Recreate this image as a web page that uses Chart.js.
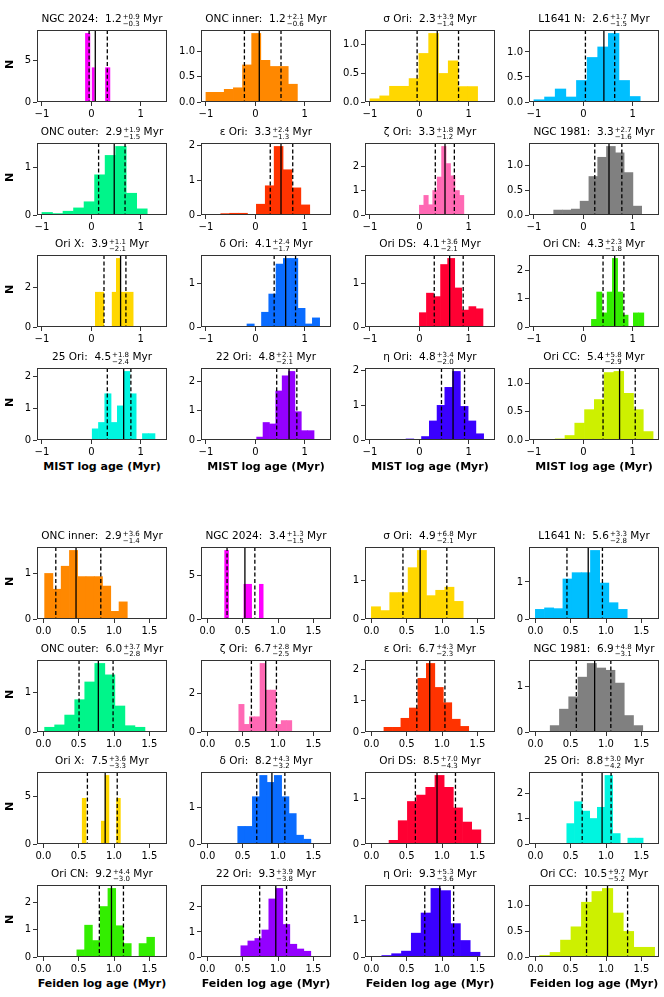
<!DOCTYPE html>
<html>
<head>
<meta charset="utf-8">
<script src="https://cdn.jsdelivr.net/npm/chart.js@4.4.1/dist/chart.umd.min.js"></script>
<style>
  body { margin: 0; background: #fff; }
  #fig { position: relative; width: 664px; height: 997px; font-family: 'DejaVu Sans', sans-serif; color: #000; }
  #fig canvas { position: absolute; }
  .ttl { position: absolute; width: 200px; text-align: center; font-size: 10.5px; line-height: 14px; white-space: nowrap; }
  .sc { display: inline-block; vertical-align: -4px; font-size: 7px; line-height: 7px; text-align: left; margin-left: 1px; }
  .sc span { display: block; }
  .ylab { position: absolute; font-size: 11px; font-weight: bold; transform: rotate(-90deg); }
  .xlab { position: absolute; width: 200px; text-align: center; font-size: 11px; font-weight: bold; }
</style>
</head>
<body>
<div id="fig"></div>
<script>
// ---- MIST ages (upper grid) ----
const MIST_NAMES = ['NGC 2024', 'ONC inner', 'σ Ori', 'L1641 N', 'ONC outer', 'ε Ori', 'ζ Ori', 'NGC 1981',
                    'Ori X', 'δ Ori', 'Ori DS', 'Ori CN', '25 Ori', '22 Ori', 'η Ori', 'Ori CC'];
const MIST_AGE   = [1.2, 1.2, 2.3, 2.6, 2.9, 3.3, 3.3, 3.3, 3.9, 4.1, 4.1, 4.3, 4.5, 4.8, 4.8, 5.4];
const MIST_PLUS  = [0.9, 2.1, 3.9, 1.7, 1.9, 2.4, 1.8, 2.7, 1.1, 2.4, 3.6, 2.3, 1.8, 2.1, 3.4, 5.8];
const MIST_MINUS = [0.3, 0.6, 1.4, 1.5, 1.5, 1.3, 1.2, 1.6, 2.1, 1.7, 2.1, 1.8, 2.4, 2.1, 2.0, 2.9];
const MIST_BIN_START = [-0.12, -1.0, -1.0, -1.0, -1.0, -0.70, 0.0, -0.6, 0.08, -0.17, 0.0, 0.163, 0.017, 0.026, -0.27, -0.57];
const MIST_BIN_WIDTH = [0.045, 0.185, 0.198, 0.215, 0.213, 0.18, 0.09, 0.178, 0.085, 0.147, 0.143, 0.106, 0.127, 0.129, 0.157, 0.198];
const MIST_DENSITY = [
  [8.3, 8.3, 0, 4.15, 0, 0, 0, 0, 0, 4.15, 4.15],
  [0.19, 0.19, 0.25, 0.28, 0.73, 1.35, 0.82, 0.70, 0.70, 0.35],
  [0.056, 0.107, 0.275, 0.275, 0.41, 0.85, 1.2, 0.5, 0.72, 0.27, 0.27],
  [0.045, 0.1, 0.26, 0.1, 0.43, 0.89, 1.1, 1.37, 0.43, 0.11],
  [0.054, 0.03, 0.08, 0.15, 0.28, 0.85, 1.26, 1.45, 0.46, 0.13],
  [0.04, 0.05, 0.05, 0, 0.31, 0.84, 1.97, 1.3, 0.78, 0.29],
  [0.4, 0.8, 0.42, 1.0, 1.55, 2.8, 2.1, 1.6, 1.0, 0.8],
  [0.1, 0.1, 0.12, 0.28, 0.78, 1.17, 1.39, 1.26, 0.86, 0.18],
  [1.75, 1.75, 0, 0, 1.75, 3.45, 1.75, 1.75, 1.75],
  [0.07, 0, 0.34, 0.76, 1.45, 1.58, 1.58, 0.43, 0.07, 0.21],
  [0.33, 0.78, 0.7, 1.44, 1.58, 0.9, 0.39, 0.47, 0.42],
  [0.27, 1.24, 0.5, 1.24, 2.43, 1.24, 0.42, 0, 0.5, 0.5],
  [0.35, 0.55, 1.45, 0.55, 1.07, 2.15, 1.45, 0, 0.2, 0.2],
  [0.1, 0.6, 0.55, 1.68, 2.2, 2.35, 0.97, 0.32, 0.32],
  [0.03, 0, 0.1, 0.55, 1.0, 1.52, 1.98, 0.97, 0.55, 0.18],
  [0.02, 0.08, 0.3, 0.54, 0.72, 1.2, 1.22, 0.83, 0.54, 0.15],
];
const MIST_YTICKS = [[0, 5], [0, 0.5, 1], [0, 0.5, 1], [0, 0.5, 1], [0, 1], [0, 1, 2], [0, 1, 2], [0, 0.5, 1],
                     [0, 2], [0, 1], [0, 1], [0, 1, 2], [0, 1, 2], [0, 1, 2], [0, 1, 2], [0, 0.5, 1]];
const MIST_XTICKS = [-1, 0, 1];

// ---- Feiden ages (lower grid) ----
const FEIDEN_NAMES = ['ONC inner', 'NGC 2024', 'σ Ori', 'L1641 N', 'ONC outer', 'ζ Ori', 'ε Ori', 'NGC 1981',
                      'Ori X', 'δ Ori', 'Ori DS', '25 Ori', 'Ori CN', '22 Ori', 'η Ori', 'Ori CC'];
const FEIDEN_AGE   = [2.9, 3.4, 4.9, 5.6, 6.0, 6.7, 6.7, 6.9, 7.5, 8.2, 8.5, 8.8, 9.2, 9.3, 9.3, 10.5];
const FEIDEN_PLUS  = [3.6, 1.3, 6.8, 3.3, 3.7, 2.8, 4.3, 4.8, 3.6, 4.3, 7.0, 3.0, 4.4, 3.9, 5.3, 9.7];
const FEIDEN_MINUS = [1.4, 1.5, 2.1, 2.8, 2.8, 2.5, 2.3, 3.1, 3.3, 3.2, 4.3, 4.2, 3.0, 3.8, 3.6, 5.2];
const FEIDEN_BIN_START = [0.018, 0.245, 0.0, 0.0, 0.018, 0.445, 0.178, 0.21, 0.55, 0.43, 0.25, 0.445, 0.474, 0.474, 0.148, 0.06];
const FEIDEN_BIN_WIDTH = [0.117, 0.0545, 0.13, 0.13, 0.142, 0.075, 0.12, 0.131, 0.054, 0.1035, 0.13, 0.108, 0.11, 0.099, 0.139, 0.148];
const FEIDEN_DENSITY = [
  [1.01, 0.66, 1.17, 1.52, 0.94, 0.94, 0.94, 0.73, 0.17, 0.38],
  [7.9, 0, 0, 0, 0, 4.0, 4.0, 0, 0, 4.0],
  [0.32, 0.22, 0.69, 0.69, 1.34, 1.79, 0.61, 0.75, 0.83, 0.46],
  [0.26, 0.3, 0.28, 1.08, 1.25, 1.25, 1.85, 0.97, 0.44, 0.26],
  [0.12, 0.18, 0.43, 0.82, 1.27, 1.74, 1.45, 0.66, 0.16, 0.12],
  [1.45, 0.4, 0.8, 0.8, 3.6, 2.2, 2.2, 0.4, 0.6, 0.6],
  [0.15, 0.15, 0.44, 0.77, 1.72, 2.2, 1.43, 0.94, 0.41, 0.18],
  [0.14, 0.5, 0.77, 1.2, 1.5, 1.4, 1.35, 1.07, 0.36, 0.14],
  [4.84, 0, 0, 0, 0, 2.42, 7.26, 0, 0, 4.84],
  [0.48, 0.48, 1.29, 1.87, 1.68, 1.87, 1.29, 0.83, 0.24, 0.13],
  [0.08, 0.51, 0.93, 1.07, 1.24, 1.5, 1.24, 0.79, 0.48, 0.31],
  [0.8, 1.66, 1.29, 1.0, 1.44, 2.69, 0.41, 0, 0.23, 0.23],
  [0.26, 1.16, 0.6, 1.84, 2.5, 1.14, 0.49, 0, 0.49, 0.72],
  [0.45, 0.64, 0.74, 1.08, 2.32, 2.74, 1.3, 0.51, 0.32, 0.23],
  [0.04, 0.09, 0.16, 0.65, 1.2, 1.87, 1.81, 0.91, 0.45, 0.13],
  [0.03, 0.09, 0.33, 0.59, 1.07, 1.28, 1.34, 0.86, 0.5, 0.19, 0.19],
];
const FEIDEN_YTICKS = [[0, 1], [0, 5], [0, 1], [0, 1], [0, 1], [0, 2], [0, 1, 2], [0, 1],
                       [0, 5], [0, 1], [0, 1], [0, 1, 2], [0, 1, 2], [0, 1, 2], [0, 1], [0, 0.5, 1]];
const FEIDEN_XTICKS = [0, 0.5, 1, 1.5];

// one colour per region, shared by both grids
const REGION_COLORS = {
  'NGC 2024': '#ff00ff', 'ONC inner': '#ff8800', 'σ Ori': '#ffd700', 'L1641 N': '#00bfff',
  'ONC outer': '#00f58a', 'ε Ori': '#ff3300', 'ζ Ori': '#ff69b4', 'NGC 1981': '#808080',
  'Ori X': '#ffd700', 'δ Ori': '#0a6cff', 'Ori DS': '#ff0033', 'Ori CN': '#33ee00',
  '25 Ori': '#00f5e0', '22 Ori': '#9400ff', 'η Ori': '#3a00ff', 'Ori CC': '#cdf000',
};

Chart.defaults.font.family = "'DejaVu Sans', sans-serif";
Chart.defaults.font.size = 10;
Chart.defaults.color = '#000';

const fig = document.getElementById('fig');
const PAD_TOP = 6, PAD_RIGHT = 8, Y_W = 36, X_H = 18;
const AX_W = 130, AX_H = 74;

// median line + 16/84 dashed lines, then the axes frame
const markers = {
  id: 'markers',
  afterDatasetsDraw(chart, args, opts) {
    const { ctx, chartArea: a, scales: { x } } = chart;
    ctx.save();
    ctx.strokeStyle = '#000';
    ctx.lineWidth = 1.3;
    opts.lines.forEach(([v, dashed]) => {
      const px = x.getPixelForValue(v);
      ctx.setLineDash(dashed ? [4, 2.4] : []);
      ctx.beginPath();
      ctx.moveTo(px, a.top);
      ctx.lineTo(px, a.bottom);
      ctx.stroke();
    });
    ctx.restore();
  },
  afterDraw(chart) {
    const { ctx, chartArea: a } = chart;
    ctx.save();
    ctx.strokeStyle = '#333';
    ctx.lineWidth = 1;
    ctx.strokeRect(Math.round(a.left) + 0.5, Math.round(a.top) + 0.5,
                   Math.round(a.right - a.left) - 1, Math.round(a.bottom - a.top) - 1);
    ctx.restore();
  },
};

const fmtX = v => (v < 0 ? '\u2212' + Math.abs(v) : String(v));

function addPanel(name, age, plus, minus, start, width, dens, yTicks, xTicks, xMin, xMax, left, top, decimalsX) {
  const color = REGION_COLORS[name];
  const points = dens.map((d, i) => ({ x: start + (i + 0.5) * width, y: d }));
  const yMax = Math.max(...dens) * 1.05;
  const yFrac = yTicks.some(v => v % 1 !== 0);

  const canvas = document.createElement('canvas');
  canvas.width = Y_W + AX_W + PAD_RIGHT;
  canvas.height = PAD_TOP + AX_H + X_H;
  canvas.style.left = (left - Y_W) + 'px';
  canvas.style.top = (top - PAD_TOP) + 'px';
  fig.appendChild(canvas);

  new Chart(canvas, {
    type: 'bar',
    data: {
      datasets: [{
        data: points,
        backgroundColor: color,
        borderWidth: 0,
        barPercentage: 1,
        categoryPercentage: 1,
      }],
    },
    options: {
      responsive: false,
      animation: false,
      events: [],
      layout: { padding: { top: PAD_TOP, right: PAD_RIGHT, left: 0, bottom: 0 } },
      plugins: {
        legend: { display: false },
        tooltip: { enabled: false },
        markers: {
          lines: [[Math.log10(age), false], [Math.log10(age - minus), true], [Math.log10(age + plus), true]],
        },
      },
      scales: {
        x: {
          type: 'linear',
          min: xMin,
          max: xMax,
          offset: false,
          afterBuildTicks: s => { s.ticks = xTicks.map(v => ({ value: v })); },
          afterFit: s => { s.height = X_H; },
          grid: { offset: false, drawOnChartArea: false, drawTicks: true, tickLength: 4, color: '#333' },
          border: { display: false },
          ticks: {
            autoSkip: false, maxRotation: 0, padding: 2,
            callback: v => (decimalsX ? v.toFixed(1) : fmtX(v)),
          },
        },
        y: {
          min: 0,
          max: yMax,
          afterBuildTicks: s => { s.ticks = yTicks.map(v => ({ value: v })); },
          afterFit: s => { s.width = Y_W; },
          grid: { drawOnChartArea: false, drawTicks: true, tickLength: 4, color: '#333' },
          border: { display: false },
          ticks: {
            autoSkip: false, padding: 2,
            callback: v => (yFrac ? v.toFixed(1) : String(v)),
          },
        },
      },
    },
    plugins: [markers],
  });

  // title with asymmetric errors
  const t = document.createElement('div');
  t.className = 'ttl';
  t.style.left = (left + AX_W / 2 - 100) + 'px';
  t.style.top = (top - 17) + 'px';
  t.innerHTML = `${name}:\u00a0\u00a0${age.toFixed(1)}<span class="sc"><span>+${plus.toFixed(1)}</span>` +
                `<span>\u2212${minus.toFixed(1)}</span></span>\u00a0Myr`;
  fig.appendChild(t);
}

function drawGrid(g) {
  g.names.forEach((name, i) => {
    const col = i % 4, row = Math.floor(i / 4);
    const left = 37 + col * 164;
    const top = g.top + row * 112.5;
    addPanel(name, g.age[i], g.plus[i], g.minus[i], g.start[i], g.width[i], g.dens[i],
             g.yTicks[i], g.xTicks, g.xMin, g.xMax, left, top, g.decimalsX);
    if (col === 0) {
      const n = document.createElement('div');
      n.className = 'ylab';
      n.textContent = 'N';
      n.style.left = '5px';
      n.style.top = (top + AX_H / 2 - 7) + 'px';
      fig.appendChild(n);
    }
    if (row === 3) {
      const xl = document.createElement('div');
      xl.className = 'xlab';
      xl.textContent = g.xLabel;
      xl.style.left = (left + AX_W / 2 - 100) + 'px';
      xl.style.top = (top + AX_H + 20) + 'px';
      fig.appendChild(xl);
    }
  });
}

drawGrid({
  names: MIST_NAMES, age: MIST_AGE, plus: MIST_PLUS, minus: MIST_MINUS,
  start: MIST_BIN_START, width: MIST_BIN_WIDTH, dens: MIST_DENSITY, yTicks: MIST_YTICKS,
  xTicks: MIST_XTICKS, xMin: -1.1, xMax: 1.53, top: 28, decimalsX: false, xLabel: 'MIST log age (Myr)',
});
drawGrid({
  names: FEIDEN_NAMES, age: FEIDEN_AGE, plus: FEIDEN_PLUS, minus: FEIDEN_MINUS,
  start: FEIDEN_BIN_START, width: FEIDEN_BIN_WIDTH, dens: FEIDEN_DENSITY, yTicks: FEIDEN_YTICKS,
  xTicks: FEIDEN_XTICKS, xMin: -0.09, xMax: 1.75, top: 545, decimalsX: true, xLabel: 'Feiden log age (Myr)',
});
</script>
</body>
</html>
